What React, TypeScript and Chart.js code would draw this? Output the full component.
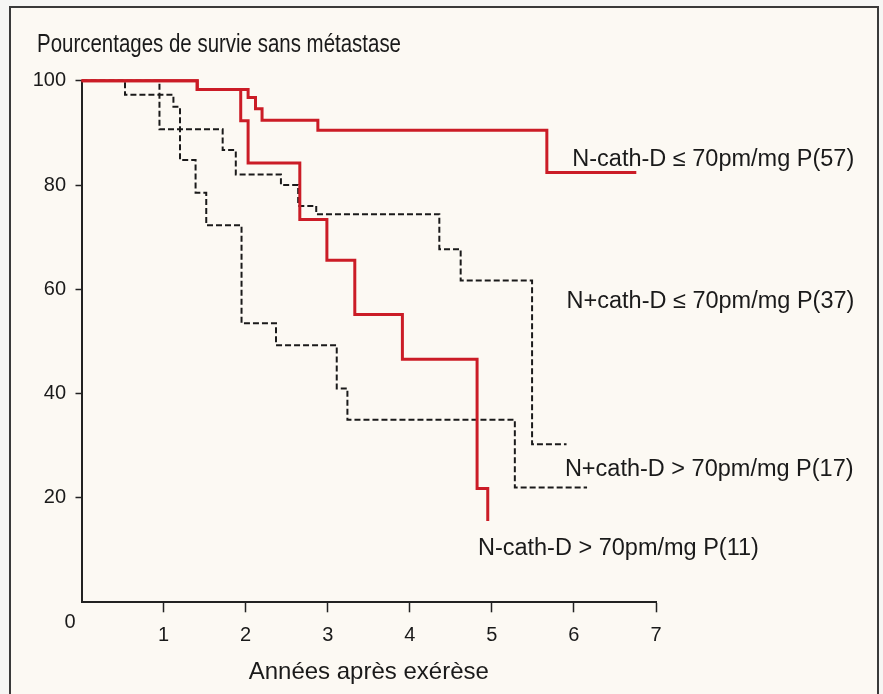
import React, { useEffect, useRef } from 'react';
import { Chart, registerables } from 'chart.js';

Chart.register(...registerables);

// ---- Data (years after surgery, % metastasis-free survival) ----
const yTickValues = [0, 20, 40, 60, 80, 100];
const xTickValues = [0, 1, 2, 3, 4, 5, 6, 7];

// N- cath-D <= 70 pm/mg P (n=57)
const negLowYears = [0, 1.41, 2.03, 2.12, 2.2, 2.88, 5.67, 6.76];
const negLowSurv = [100, 98.3, 96.8, 94.6, 92.4, 90.5, 82.4, 82.4];

// N- cath-D > 70 pm/mg P (n=11)
const negHighYears = [0, 1.41, 1.94, 2.03, 2.66, 2.99, 3.33, 3.91, 4.82, 4.95];
const negHighSurv = [100, 98.3, 92.3, 84.2, 73.4, 65.6, 55.2, 46.6, 21.8, 15.6];

// N+ cath-D <= 70 pm/mg P (n=37)
const posLowYears = [0, 0.95, 1.72, 1.88, 2.43, 2.64, 2.86, 4.36, 4.62, 5.49, 5.91];
const posLowSurv = [100, 90.7, 86.7, 82.0, 80.0, 76.0, 74.4, 67.7, 61.7, 30.3, 30.3];

// N+ cath-D > 70 pm/mg P (n=17)
const posHighYears = [0, 0.53, 1.12, 1.2, 1.39, 1.52, 1.95, 2.37, 3.11, 3.24, 5.28, 6.16];
const posHighSurv = [100, 97.3, 95.0, 84.8, 78.5, 72.3, 53.5, 49.3, 41.0, 35.0, 22.0, 22.0];

const seriesLabels = [
  'N-cath-D ≤ 70pm/mg P(57)',
  'N+cath-D ≤ 70pm/mg P(37)',
  'N+cath-D > 70pm/mg P(17)',
  'N-cath-D > 70pm/mg P(11)',
];
// anchors of the curve labels, in data units (years, %)
const labelYears = [5.98, 5.91, 5.89, 4.83];
const labelSurv = [84.8, 57.6, 25.4, 10.4];

const titleText = 'Pourcentages de survie sans métastase';
const xTitleText = 'Années après exérèse';

const FONT = '"Liberation Sans", Arial, Helvetica, sans-serif';
const RED = 'rgb(203, 28, 38)';
const INK = '#1a1a1a';

const toPoints = (xs: number[], ys: number[]) => xs.map((x, i) => ({ x, y: ys[i] }));

const textPlugin = {
  id: 'chartTexts',
  afterDraw(chart: any) {
    const { ctx, scales } = chart;
    const xs = scales.x;
    const ys = scales.y;
    ctx.save();
    ctx.fillStyle = INK;

    // title (condensed face, like the original narrow Helvetica)
    ctx.textBaseline = 'alphabetic';
    ctx.textAlign = 'left';
    ctx.font = `25px ${FONT}`;
    ctx.fillText(titleText, 37, 52, 364);

    // curve labels
    ctx.textBaseline = 'middle';
    ctx.font = `23.5px ${FONT}`;
    seriesLabels.forEach((t, i) => {
      ctx.fillText(t, xs.getPixelForValue(labelYears[i]), ys.getPixelForValue(labelSurv[i]));
    });

    // origin label
    ctx.font = `20px ${FONT}`;
    ctx.textAlign = 'center';
    ctx.fillText('0', xs.getPixelForValue(0) - 11.5, ys.getPixelForValue(0) + 20);
    ctx.restore();
  },
};

export default function App() {
  const canvasRef = useRef<HTMLCanvasElement | null>(null);

  useEffect(() => {
    if (!canvasRef.current) return;
    Chart.defaults.font.family = FONT;
    const chart = new Chart(canvasRef.current, {
      type: 'line',
      data: {
        datasets: [
          {
            label: seriesLabels[0],
            data: toPoints(negLowYears, negLowSurv),
            borderColor: RED,
            borderWidth: 3,
          },
          {
            label: seriesLabels[3],
            data: toPoints(negHighYears, negHighSurv),
            borderColor: RED,
            borderWidth: 3,
          },
          {
            label: seriesLabels[1],
            data: toPoints(posLowYears, posLowSurv),
            borderColor: INK,
            borderWidth: 2,
            borderDash: [6, 3],
          },
          {
            label: seriesLabels[2],
            data: toPoints(posHighYears, posHighSurv),
            borderColor: INK,
            borderWidth: 2,
            borderDash: [6, 3],
          },
        ].map((d) => ({
          ...d,
          stepped: 'before' as const,
          pointRadius: 0,
          pointHoverRadius: 0,
          fill: false,
          tension: 0,
          clip: 6,
          borderCapStyle: 'butt' as const,
          borderJoinStyle: 'miter' as const,
        })),
      },
      options: {
        responsive: false,
        animation: false,
        events: [],
        layout: { padding: { left: 14, top: 80.7, right: 227, bottom: 0 } },
        plugins: {
          legend: { display: false },
          tooltip: { enabled: false },
          title: { display: false },
        },
        scales: {
          x: {
            type: 'linear',
            min: 0,
            max: 7,
            afterBuildTicks: (s: any) => {
              s.ticks = xTickValues.map((v) => ({ value: v }));
            },
            afterFit: (s: any) => {
              s.height = 91.7;
            },
            ticks: {
              autoSkip: false,
              maxRotation: 0,
              color: INK,
              font: { size: 20, family: FONT },
              padding: 10.7,
              callback: (v: any) => (v === 0 ? '' : String(v)),
            },
            grid: {
              drawOnChartArea: false,
              drawTicks: true,
              tickLength: 10,
              tickWidth: 1.5,
              tickColor: (c: any) => (c.tick && c.tick.value === 0 ? 'rgba(0,0,0,0)' : '#222'),
            },
            border: { display: true, color: '#222', width: 2 },
            title: {
              display: true,
              text: xTitleText,
              color: INK,
              font: { size: 24, family: FONT },
              padding: { top: 0, bottom: 7.6 },
            },
          },
          y: {
            type: 'linear',
            min: 0,
            max: 100,
            afterBuildTicks: (s: any) => {
              s.ticks = yTickValues.map((v) => ({ value: v }));
            },
            afterFit: (s: any) => {
              s.width = 67.5;
            },
            ticks: {
              color: INK,
              font: { size: 20, family: FONT },
              padding: 9.5,
              callback: (v: any) => (v === 0 ? '' : String(v)),
            },
            grid: {
              drawOnChartArea: false,
              drawTicks: true,
              tickLength: 6,
              tickWidth: 1.5,
              tickColor: (c: any) => (c.tick && c.tick.value === 0 ? 'rgba(0,0,0,0)' : '#222'),
            },
            border: { display: true, color: '#222', width: 2 },
          },
        },
      },
      plugins: [textPlugin],
    } as any);
    return () => chart.destroy();
  }, []);

  return (
    <div
      style={{
        position: 'fixed',
        left: 0,
        top: 0,
        width: 883,
        height: 694,
        background: '#f6f6f4',
        overflow: 'hidden',
      }}
    >
      <div
        style={{
          position: 'absolute',
          left: 9,
          top: 6,
          width: 866,
          height: 720,
          border: '2px solid #3a3a3a',
          background: '#fcf9f3',
        }}
      />
      <canvas
        ref={canvasRef}
        width={883}
        height={694}
        style={{ position: 'absolute', left: 0, top: 0, width: 883, height: 694 }}
      />
    </div>
  );
}
